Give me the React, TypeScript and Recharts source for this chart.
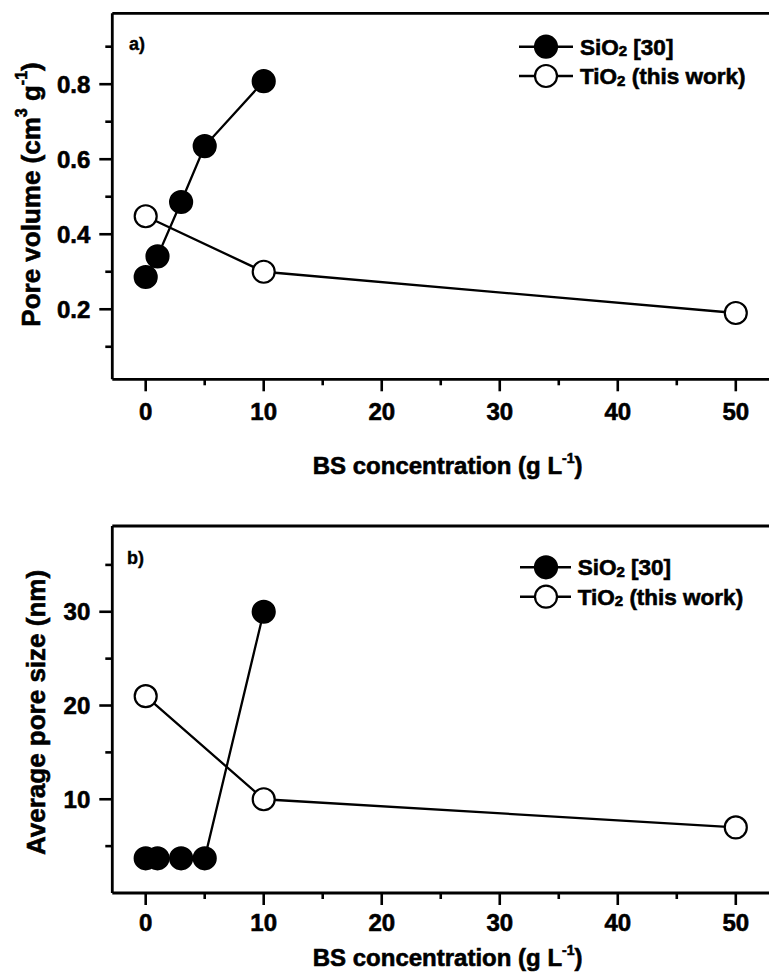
import React from 'react';
import { LineChart, Line, XAxis, YAxis, Legend } from 'recharts';

const FONT = '"Liberation Sans", Arial, Helvetica, sans-serif';
const TXT_STROKE = 0.6;

// x axis (BS concentration, g/L)
const concentrationTicks = [0, 5, 10, 15, 20, 25, 30, 35, 40, 45, 50];
const concentrationMajor = [0, 10, 20, 30, 40, 50];

// panel a) pore volume
const sio2VolumeX = [0, 1, 3, 5, 10];
const sio2VolumeY = [0.286, 0.341, 0.486, 0.635, 0.808];
const tio2VolumeX = [0, 10, 50];
const tio2VolumeY = [0.448, 0.3, 0.19];
const volumeTicks = [0.1, 0.2, 0.3, 0.4, 0.5, 0.6, 0.7, 0.8, 0.9];
const volumeMajor = [0.2, 0.4, 0.6, 0.8];

// panel b) average pore size
const sio2SizeX = [0, 1, 3, 5, 10];
const sio2SizeY = [3.7, 3.7, 3.7, 3.7, 30];
const tio2SizeX = [0, 10, 50];
const tio2SizeY = [21, 10, 7];
const sizeTicks = [5, 10, 15, 20, 25, 30, 35];
const sizeMajor = [10, 20, 30];

const seriesNames = ['SiO2 [30]', 'TiO2 (this work)'];
const legendParts = [
  { main: 'SiO', sub: '2', rest: ' [30]' },
  { main: 'TiO', sub: '2', rest: ' (this work)' },
];
const seriesFill = ['#000', '#fff'];

const zip = (xs: number[], ys: number[]) => xs.map((x, i) => ({ x, y: ys[i] }));

const isMajor = (v: number, majors: number[]) => majors.some((m) => Math.abs(m - v) < 1e-9);

const textProps = {
  fontFamily: FONT,
  fontWeight: 'bold' as const,
  fill: '#000',
  stroke: '#000',
  strokeWidth: TXT_STROKE,
};

const XTick = (props: any) => {
  const { x, y, payload, majors, labelDy } = props;
  const v = payload.value;
  const major = isMajor(v, majors);
  return (
    <g>
      <line x1={x} y1={y} x2={x} y2={y + (major ? 12 : 6)} stroke="#000" strokeWidth={2.6} />
      {major && (
        <text x={x} y={y + labelDy} textAnchor="middle" fontSize={24} {...textProps}>
          {String(v)}
        </text>
      )}
    </g>
  );
};

const YTick = (props: any) => {
  const { x, y, payload, majors, digits } = props;
  const v = payload.value;
  const major = isMajor(v, majors);
  return (
    <g>
      <line x1={x} y1={y} x2={x - (major ? 13 : 7)} y2={y} stroke="#000" strokeWidth={2.6} />
      {major && (
        <text x={x - 22} y={y + 8.6} textAnchor="end" fontSize={24} {...textProps}>
          {v.toFixed(digits)}
        </text>
      )}
    </g>
  );
};

const xTitle = (dy: number) => (props: any) => {
  const vb = props.viewBox || {};
  const cx = vb.x + vb.width / 2;
  const y = vb.y + dy;
  return (
    <text x={cx} y={y} textAnchor="middle" fontSize={24} {...textProps}>
      <tspan>BS concentration (g L</tspan>
      <tspan fontSize={14} dy={-11}>-1</tspan>
      <tspan dy={11}>)</tspan>
    </text>
  );
};

const yTitleVolume = (baseX: number, cy: number) => () => (
  <text transform={`rotate(-90 ${baseX} ${cy})`} x={baseX} y={cy} textAnchor="middle" fontSize={26} {...textProps}>
    <tspan>Pore volume (cm</tspan>
    <tspan fontSize={16} dy={-13}>3</tspan>
    <tspan dy={13}> g</tspan>
    <tspan fontSize={16} dy={-13}>-1</tspan>
    <tspan dy={13}>)</tspan>
  </text>
);

const yTitleSize = (baseX: number, cy: number) => () => (
  <text transform={`rotate(-90 ${baseX} ${cy})`} x={baseX} y={cy} textAnchor="middle" fontSize={26} {...textProps}>
    Average pore size (nm)
  </text>
);

const makeLegend = (
  panel: string,
  px: number,
  py: number,
  x0: number,
  x1: number,
  mx: number,
  tx: number,
  rows: number[]
) => () => (
  <svg width={800} height={140} style={{ overflow: 'visible', display: 'block' }}>
    <text x={px} y={py} fontSize={18} {...textProps} strokeWidth={0.4}>
      {panel}
    </text>
    {seriesNames.map((name, i) => (
      <g key={name}>
        <line x1={x0} y1={rows[i]} x2={x1} y2={rows[i]} stroke="#000" strokeWidth={2.4} />
        <circle cx={mx} cy={rows[i]} r={11} fill={seriesFill[i]} stroke="#000" strokeWidth={2.2} />
        <text x={tx} y={rows[i] + 8.1} fontSize={22.5} {...textProps}>
          <tspan>{legendParts[i].main}</tspan>
          <tspan fontSize={15} dy={1.5}>{legendParts[i].sub}</tspan>
          <tspan dy={-1.5}>{legendParts[i].rest}</tspan>
        </text>
      </g>
    ))}
  </svg>
);

const X_DOMAIN: [number, number] = [-2.83, 54];
const CHART_W = 800;

export default function App() {
  const volSi = zip(sio2VolumeX, sio2VolumeY);
  const volTi = zip(tio2VolumeX, tio2VolumeY);
  const sizeSi = zip(sio2SizeX, sio2SizeY);
  const sizeTi = zip(tio2SizeX, tio2SizeY);

  const axisLine = { stroke: '#000', strokeWidth: 2.8 };
  const lineStroke = 2.3;

  return (
    <div style={{ width: 769, height: 964, overflow: 'hidden', position: 'relative', background: '#fff' }}>
      <div style={{ position: 'absolute', left: 0, top: 0 }}>
        <LineChart width={CHART_W} height={500} margin={{ top: 4.3, right: 25, bottom: 28.7, left: 24.3 }}>
          <XAxis
            dataKey="x"
            type="number"
            domain={X_DOMAIN}
            allowDataOverflow
            ticks={concentrationTicks}
            interval={0}
            height={100}
            tickSize={0}
            tickMargin={0}
            tickLine={false}
            axisLine={axisLine}
            tick={<XTick majors={concentrationMajor} labelDy={40.3} />}
            label={xTitle(94.7)}
          />
          <XAxis
            xAxisId="top"
            orientation="top"
            dataKey="x"
            type="number"
            domain={X_DOMAIN}
            allowDataOverflow
            height={1}
            tick={false}
            tickLine={false}
            axisLine={axisLine}
          />
          <YAxis
            dataKey="y"
            type="number"
            domain={[0.0133, 0.989]}
            allowDataOverflow
            ticks={volumeTicks}
            interval={0}
            width={80}
            tickSize={0}
            tickMargin={0}
            tickLine={false}
            axisLine={axisLine}
            tick={<YTick majors={volumeMajor} digits={1} />}
            label={yTitleVolume(32.2, 186.5)}
          />
          <Legend
            layout="vertical"
            align="center"
            verticalAlign="middle"
            wrapperStyle={{ position: 'absolute', left: 0, top: 0, width: 800, height: 140 }}
            content={makeLegend('a)', 121, 41.5, 511, 565, 538, 572, [38.7, 68])}
          />
          <Line
            name={seriesNames[0]}
            data={volSi}
            dataKey="y"
            stroke="#000"
            strokeWidth={lineStroke}
            dot={{ r: 11, fill: '#000', stroke: '#000', strokeWidth: 2.2 }}
            activeDot={false}
            isAnimationActive={false}
          />
          <Line
            name={seriesNames[1]}
            data={volTi}
            dataKey="y"
            stroke="#000"
            strokeWidth={lineStroke}
            dot={{ r: 11, fill: '#fff', stroke: '#000', strokeWidth: 2.2 }}
            activeDot={false}
            isAnimationActive={false}
          />
        </LineChart>
      </div>
      <div style={{ position: 'absolute', left: 0, top: 500 }}>
        <LineChart width={CHART_W} height={464} margin={{ top: 17, right: 25, bottom: 4, left: 24.3 }}>
          <XAxis
            dataKey="x"
            type="number"
            domain={X_DOMAIN}
            allowDataOverflow
            ticks={concentrationTicks}
            interval={0}
            height={75}
            tickSize={0}
            tickMargin={0}
            tickLine={false}
            axisLine={axisLine}
            tick={<XTick majors={concentrationMajor} labelDy={37.6} />}
            label={xTitle(73)}
          />
          <XAxis
            xAxisId="top"
            orientation="top"
            dataKey="x"
            type="number"
            domain={X_DOMAIN}
            allowDataOverflow
            height={1}
            tick={false}
            tickLine={false}
            axisLine={axisLine}
          />
          <YAxis
            dataKey="y"
            type="number"
            domain={[0, 39.15]}
            allowDataOverflow
            ticks={sizeTicks}
            interval={0}
            width={80}
            tickSize={0}
            tickMargin={0}
            tickLine={false}
            axisLine={axisLine}
            tick={<YTick majors={sizeMajor} digits={0} />}
            label={yTitleSize(37, 204.5)}
          />
          <Legend
            layout="vertical"
            align="center"
            verticalAlign="middle"
            wrapperStyle={{ position: 'absolute', left: 0, top: 0, width: 800, height: 140 }}
            content={makeLegend('b)', 119, 55.5, 512, 563, 538, 569.7, [59.3, 88.7])}
          />
          <Line
            name={seriesNames[0]}
            data={sizeSi}
            dataKey="y"
            stroke="#000"
            strokeWidth={lineStroke}
            dot={{ r: 11, fill: '#000', stroke: '#000', strokeWidth: 2.2 }}
            activeDot={false}
            isAnimationActive={false}
          />
          <Line
            name={seriesNames[1]}
            data={sizeTi}
            dataKey="y"
            stroke="#000"
            strokeWidth={lineStroke}
            dot={{ r: 11, fill: '#fff', stroke: '#000', strokeWidth: 2.2 }}
            activeDot={false}
            isAnimationActive={false}
          />
        </LineChart>
      </div>
    </div>
  );
}
